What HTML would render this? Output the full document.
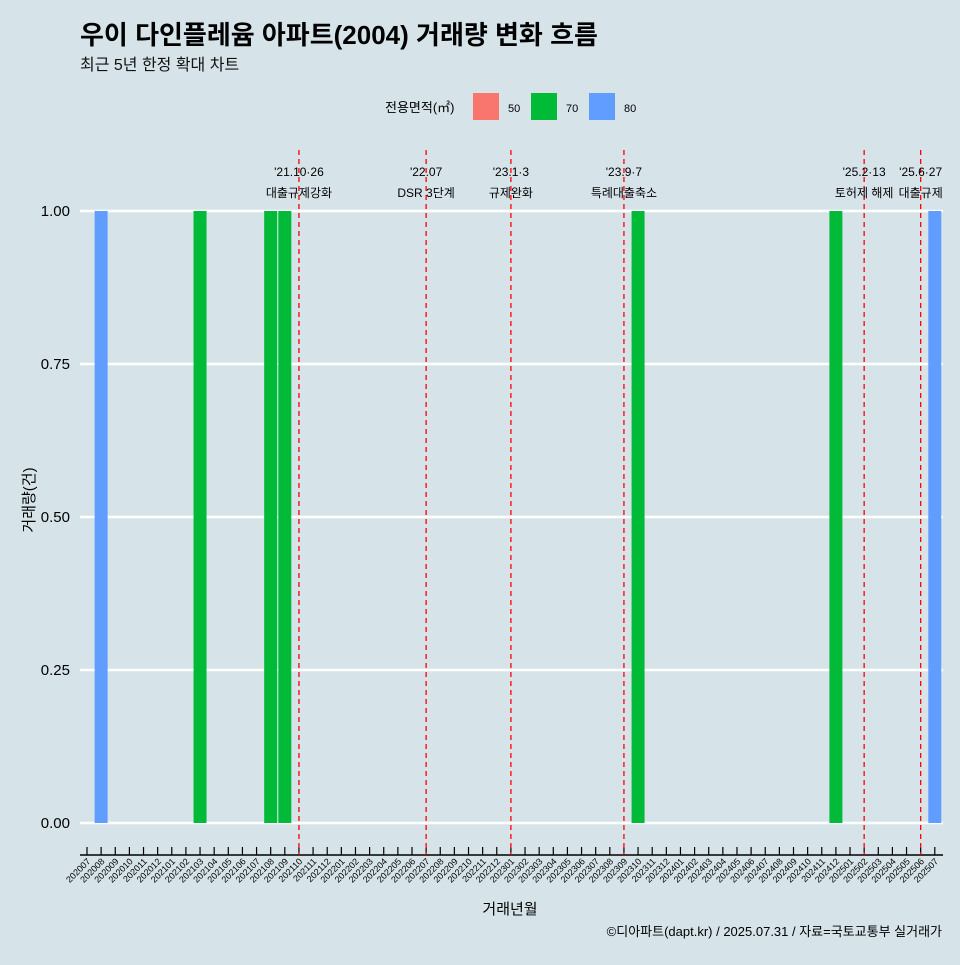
<!DOCTYPE html>
<html><head><meta charset="utf-8"><style>
body{margin:0;background:#d6e4ea;font-family:"Liberation Sans","Noto Sans CJK KR",sans-serif;}
svg text{font-family:"Liberation Sans","Noto Sans CJK KR",sans-serif;}
</style></head><body>
<svg width="960" height="960" xmlns="http://www.w3.org/2000/svg">
<rect width="960" height="960" fill="#d6e4ea"/>
<text x="80" y="44" font-size="26" font-weight="bold" fill="#000">우이 다인플레윰 아파트(2004) 거래량 변화 흐름</text>
<text x="80" y="70" font-size="16" fill="#111">최근 5년 한정 확대 차트</text>
<g>
<text x="385" y="112" font-size="13">전용면적(㎡)</text>
<rect x="473" y="93" width="26" height="27" fill="#f8766d"/>
<text x="508" y="112" font-size="11">50</text>
<rect x="531" y="93" width="26" height="27" fill="#00ba38"/>
<text x="566" y="112" font-size="11">70</text>
<rect x="589" y="93" width="26" height="27" fill="#619cff"/>
<text x="624" y="112" font-size="11">80</text>
</g>
<g id="plot"></g>
<text x="510" y="914" font-size="15" text-anchor="middle">거래년월</text>
<text x="34" y="500" font-size="15" text-anchor="middle" transform="rotate(-90 34 500)">거래량(건)</text>
<text x="942" y="936" font-size="13" text-anchor="end">©디아파트(dapt.kr) / 2025.07.31 / 자료=국토교통부 실거래가</text>
</svg>
<script>
const months=[];for(let y=2020;y<=2025;y++)for(let m=1;m<=12;m++){const k=y*100+m;if(k>=202007&&k<=202507)months.push(String(k));}
const barMonths=["202008","202103","202108","202109","202310","202412","202507"];
const barValues=[1,1,1,1,1,1,1];
const barAreas=["80","70","70","70","70","70","80"];
const yTicks=[0,0.25,0.5,0.75,1];
const yTickLabels=["0.00","0.25","0.50","0.75","1.00"];
const eventMonths=["202110","202207","202301","202309","202502","202506"];
const eventDates=["'21.10·26","'22.07","'23.1·3","'23.9·7","'25.2·13","'25.6·27"];
const eventNames=["대출규제강화","DSR 3단계","규제완화","특례대출축소","토허제 해제","대출규제"];
const colors={"50":"#f8766d","70":"#00ba38","80":"#619cff"};
const NS="http://www.w3.org/2000/svg",g=document.getElementById('plot');
const x=i=>87+i*14.13, y=v=>823-v*612;
function mk(t,a){const e=document.createElementNS(NS,t);for(const k in a)e.setAttribute(k,a[k]);g.appendChild(e);return e;}
yTicks.forEach((v,i)=>{
const l=mk('line',{x1:80,x2:943,y1:y(v),y2:y(v),stroke:'#fff','stroke-width':2.5});


const t=mk('text',{x:70,y:y(v)+5,'font-size':15,'text-anchor':'end'});t.textContent=yTickLabels[i];


});
barMonths.forEach((m,i)=>{const c=months.indexOf(m);
const r=mk('rect',{x:x(c)-6.5,y:y(barValues[i]),width:13,height:y(0)-y(barValues[i]),fill:colors[barAreas[i]]});


});
const ax=mk('line',{x1:80,x2:943,y1:855,y2:855,stroke:'#000','stroke-width':1.5});


months.forEach((m,i)=>{
const tk=mk('line',{x1:x(i),x2:x(i),y1:847,y2:855,stroke:'#000','stroke-width':1.2});


const t=mk('text',{x:x(i)+4,y:862,'font-size':9,'text-anchor':'end',transform:`rotate(-45 ${x(i)+4} 862)`});t.textContent=m;


});
eventMonths.forEach((m,i)=>{const c=months.indexOf(m),xx=x(c);
const l=mk('line',{x1:xx,x2:xx,y1:150,y2:855,stroke:'#ff0000','stroke-width':1.3,'stroke-dasharray':'5,4'});


const t1=mk('text',{x:xx,y:176,'font-size':12,'text-anchor':'middle'});t1.textContent=eventDates[i];


const t2=mk('text',{x:xx,y:197,'font-size':12,'text-anchor':'middle'});t2.textContent=eventNames[i];


});
</script>
</body></html>
